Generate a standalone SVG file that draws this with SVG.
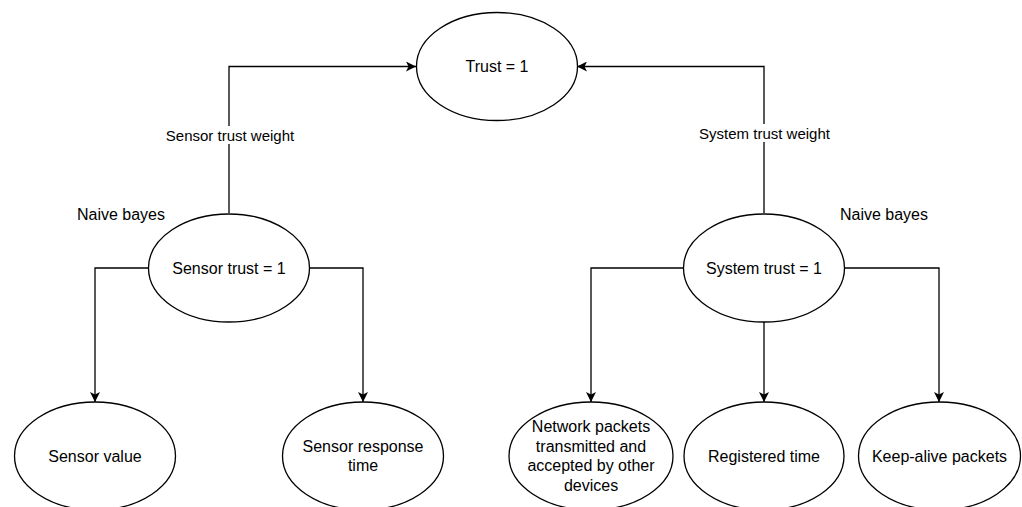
<svg xmlns="http://www.w3.org/2000/svg" width="1022" height="507" viewBox="0 0 1022 507">
<style>
.node ellipse{fill:#fff;stroke:#000;stroke-width:1.3}
text{font-family:"Liberation Sans",Arial,sans-serif;font-size:16px;fill:#000;text-anchor:middle;dominant-baseline:central}
.edge{fill:none;stroke:#000;stroke-width:1.3}
.lbl{fill:#fff}
.elbl{font-size:15px}
</style>
<defs>
<marker id="arr" viewBox="0 0 10 10" refX="10" refY="5" markerWidth="10" markerHeight="10" markerUnits="userSpaceOnUse" orient="auto">
<path d="M0,0 L10,5 L0,10 L2.5,5 Z" fill="#000"/>
</marker>
</defs>
<rect width="1022" height="507" fill="#fff"/>
<g id="connectors">
<path class="edge" d="M229,213 V66.5 H416" marker-end="url(#arr)"/>
<path class="edge" d="M764,213 V66.5 H577" marker-end="url(#arr)"/>
<path class="edge" d="M148.5,268 H95 V402" marker-end="url(#arr)"/>
<path class="edge" d="M309.5,268 H363 V402" marker-end="url(#arr)"/>
<path class="edge" d="M683.5,268 H591 V402" marker-end="url(#arr)"/>
<path class="edge" d="M764,322 V402" marker-end="url(#arr)"/>
<path class="edge" d="M844.5,268 H939 V402" marker-end="url(#arr)"/>
<rect class="lbl" x="162" y="126" width="136" height="18"/>
<text class="elbl" x="230" y="135">Sensor trust weight</text>
<rect class="lbl" x="696" y="124" width="137" height="18"/>
<text class="elbl" x="764.5" y="133">System trust weight</text>
</g>
<g id="label-naive-left"><text x="121" y="214">Naive bayes</text></g>
<g id="label-naive-right"><text x="884" y="214">Naive bayes</text></g>
<g id="trust" class="node"><ellipse cx="497" cy="66.5" rx="80.5" ry="54"/><text x="497" y="66.5">Trust = 1</text></g>
<g id="sensor-trust" class="node"><ellipse cx="229" cy="268" rx="80.5" ry="54"/><text x="229" y="268">Sensor trust = 1</text></g>
<g id="system-trust" class="node"><ellipse cx="764" cy="268" rx="80.5" ry="54"/><text x="764" y="268">System trust = 1</text></g>
<g id="sensor-value" class="node"><ellipse cx="95" cy="456" rx="80.5" ry="54"/><text x="95" y="456">Sensor value</text></g>
<g id="sensor-response" class="node"><ellipse cx="363" cy="456" rx="80.5" ry="54"/><text x="363" y="446.5">Sensor response</text><text x="363" y="465.5">time</text></g>
<g id="network-packets" class="node"><ellipse cx="591" cy="456" rx="82" ry="54"/><text x="591" y="426.8">Network packets</text><text x="591" y="446.3">transmitted and</text><text x="591" y="465.8">accepted by other</text><text x="591" y="485.3">devices</text></g>
<g id="registered-time" class="node"><ellipse cx="764" cy="456" rx="80" ry="54"/><text x="764" y="456">Registered time</text></g>
<g id="keep-alive" class="node"><ellipse cx="939.5" cy="456" rx="81" ry="54"/><text x="939.5" y="456">Keep-alive packets</text></g>
</svg>
